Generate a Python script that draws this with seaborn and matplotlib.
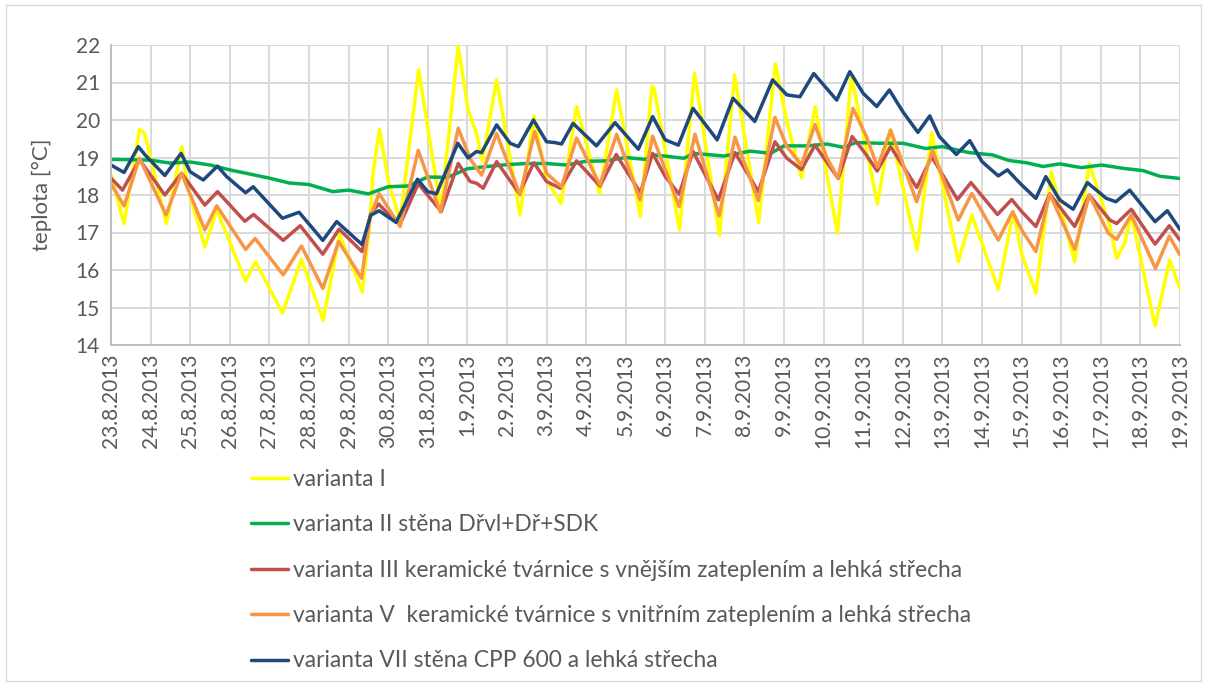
import numpy as np
import pandas as pd
import matplotlib
matplotlib.use("Agg")
import matplotlib.pyplot as plt
from matplotlib.patches import Rectangle
import seaborn as sns

# dny od 23.8.2013 0:00 -> teplota [°C] (extrémy + přechody)
dates = ["23.8.2013", "24.8.2013", "25.8.2013", "26.8.2013", "27.8.2013", "28.8.2013",
         "29.8.2013", "30.8.2013", "31.8.2013", "1.9.2013", "2.9.2013", "3.9.2013",
         "4.9.2013", "5.9.2013", "6.9.2013", "7.9.2013", "8.9.2013", "9.9.2013",
         "10.9.2013", "11.9.2013", "12.9.2013", "13.9.2013", "14.9.2013", "15.9.2013",
         "16.9.2013", "17.9.2013", "18.9.2013", "19.9.2013"]

names = ["varianta I",
         "varianta II stěna Dřvl+Dř+SDK",
         "varianta III keramické tvárnice s vnějším zateplením a lehká střecha",
         "varianta V  keramické tvárnice s vnitřním zateplením a lehká střecha",
         "varianta VII stěna CPP 600 a lehká střecha"]
colors = ["#FFFF00", "#00B050", "#C0504D", "#F79646", "#1F497D"]

t_var1 = [0.0, 0.33, 0.72, 0.85, 1.40, 1.79, 1.94, 2.37, 2.67, 3.40, 3.65, 4.33, 4.81,
          5.36, 5.77, 6.35, 6.54, 6.62, 6.78, 7.0, 7.3, 7.77, 8.33, 8.77, 9.02, 9.23,
          9.38, 9.74, 10.33, 10.68, 11.0, 11.37, 11.76, 12.34, 12.77, 13.37, 13.66,
          13.72, 14.36, 14.74, 15.37, 15.75, 16.36, 16.78, 17.08, 17.44, 17.79, 18.07,
          18.35, 18.7, 19.36, 19.68, 20.36, 20.73, 21.4, 21.74, 22.41, 22.79, 23.0,
          23.36, 23.75, 24.34, 24.71, 25.23, 25.4, 25.6, 25.77, 26.37, 26.74, 27.0]
v_var1 = [18.55, 17.24, 19.75, 19.65, 17.24, 19.29, 18.2, 16.62, 17.6, 15.7, 16.22, 14.85,
          16.28, 14.66, 16.95, 15.42, 17.3, 18.6, 19.76, 18.4, 17.3, 21.34, 17.6, 21.96,
          20.27, 19.64, 18.9, 21.08, 17.47, 20.1, 18.4, 17.78, 20.36, 18.04, 20.8, 17.43,
          20.9, 20.84, 17.07, 21.24, 16.92, 21.2, 17.26, 21.5, 19.9, 18.46, 20.36, 18.6,
          16.98, 21.18, 17.76, 19.73, 16.53, 19.66, 16.22, 17.47, 15.49, 17.56, 16.44,
          15.38, 18.62, 16.22, 18.84, 17.16, 16.31, 16.71, 17.47, 14.51, 16.27, 15.5]

t_var2 = [0, 1, 1.5, 2, 2.5, 3, 3.5, 4, 4.5, 5, 5.6, 6, 6.5, 7, 7.5, 8, 8.5, 9, 9.5, 10,
          10.5, 11, 11.5, 12, 12.5, 13, 13.5, 13.71, 14.47, 14.72, 15.48, 16.15, 16.66,
          17.0, 17.58, 18.09, 18.5, 18.81, 19.4, 20.0, 20.58, 21.0, 21.67, 22.26, 22.68,
          23.12, 23.54, 23.96, 24.51, 25.02, 25.57, 26.07, 26.49, 27.0]
v_var2 = [18.95, 18.93, 18.85, 18.88, 18.8, 18.67, 18.56, 18.45, 18.32, 18.28, 18.09,
          18.13, 18.03, 18.22, 18.24, 18.48, 18.47, 18.7, 18.76, 18.81, 18.84, 18.84, 18.8,
          18.9, 18.91, 19.0, 18.95, 19.07, 18.98, 19.11, 19.04, 19.17, 19.11, 19.31, 19.31,
          19.36, 19.27, 19.4, 19.38, 19.38, 19.24, 19.29, 19.13, 19.07, 18.92, 18.86, 18.76,
          18.83, 18.73, 18.8, 18.71, 18.65, 18.5, 18.44]

t_var3 = [0, 0.29, 0.72, 1.36, 1.78, 2.37, 2.69, 3.38, 3.6, 4.35, 4.78, 5.35, 5.76, 6.34,
          6.56, 6.76, 7.0, 7.3, 7.76, 8.34, 8.77, 9.07, 9.24, 9.4, 9.74, 10.31, 10.68, 11.0,
          11.35, 11.76, 12.35, 12.76, 13.37, 13.68, 14.0, 14.35, 14.7, 15.34, 15.76, 16.35,
          16.77, 17.07, 17.44, 17.78, 18.07, 18.37, 18.72, 19.05, 19.35, 19.69, 20.35,
          20.73, 21.38, 21.72, 22.39, 22.75, 23.0, 23.36, 23.71, 24.34, 24.71, 25.23, 25.4,
          25.77, 26.37, 26.73, 27.0]
v_var3 = [18.45, 18.13, 18.94, 18.0, 18.58, 17.73, 18.09, 17.3, 17.48, 16.79, 17.18, 16.42,
          17.09, 16.49, 17.5, 17.76, 17.5, 17.22, 18.3, 17.56, 18.84, 18.36, 18.31, 18.18,
          18.89, 18.04, 18.86, 18.36, 18.18, 18.91, 18.24, 19.08, 18.06, 19.11, 18.49, 18.02,
          19.16, 17.87, 19.13, 18.09, 19.42, 18.98, 18.68, 19.33, 18.89, 18.44, 19.56, 19.11,
          18.64, 19.29, 18.2, 19.02, 17.88, 18.33, 17.48, 17.88, 17.56, 17.16, 18.03, 17.16,
          18.0, 17.33, 17.24, 17.62, 16.69, 17.18, 16.8]

t_var5 = [0, 0.33, 0.72, 1.39, 1.78, 2.37, 2.67, 3.4, 3.64, 4.35, 4.81, 5.35, 5.75, 6.33,
          6.54, 6.77, 7.3, 7.76, 8.32, 8.77, 9.08, 9.36, 9.74, 10.33, 10.7, 11.0, 11.38,
          11.76, 12.35, 12.77, 13.36, 13.68, 14.35, 14.75, 15.36, 15.76, 16.35, 16.77,
          17.07, 17.44, 17.78, 18.07, 18.36, 18.74, 19.08, 19.36, 19.69, 20.35, 20.75,
          21.4, 21.74, 22.41, 22.77, 23.0, 23.36, 23.71, 24.34, 24.71, 25.19, 25.4, 25.77,
          26.38, 26.73, 27.0]
v_var5 = [18.3, 17.71, 18.98, 17.47, 18.58, 17.07, 17.71, 16.55, 16.84, 15.87, 16.64, 15.51,
          16.76, 15.78, 17.38, 18.04, 17.16, 19.19, 17.54, 19.78, 18.95, 18.53, 19.64, 18.0,
          19.69, 18.58, 18.22, 19.52, 18.27, 19.62, 17.87, 19.57, 17.69, 19.62, 17.44, 19.54,
          17.85, 20.07, 19.29, 18.8, 19.88, 19.02, 18.45, 20.31, 19.56, 18.74, 19.73, 17.82,
          19.2, 17.33, 18.04, 16.8, 17.55, 17.07, 16.49, 18.03, 16.55, 18.0, 16.98, 16.82,
          17.47, 16.04, 16.9, 16.4]

t_var7 = [0, 0.33, 0.69, 0.86, 1.36, 1.77, 2.0, 2.33, 2.69, 2.92, 3.4, 3.59, 4.33, 4.75,
          5.35, 5.7, 6.34, 6.56, 6.77, 7.2, 7.74, 8.0, 8.22, 8.76, 9.02, 9.23, 9.36, 9.74,
          10.08, 10.29, 10.67, 11.0, 11.2, 11.38, 11.67, 12.26, 12.73, 13.32, 13.68, 14.0,
          14.33, 14.7, 15.31, 15.71, 16.26, 16.71, 17.07, 17.4, 17.75, 18.33, 18.66, 19.0,
          19.34, 19.66, 20.0, 20.38, 20.68, 20.92, 21.35, 21.69, 22.0, 22.41, 22.64, 22.98,
          23.36, 23.61, 23.96, 24.3, 24.66, 25.14, 25.38, 25.73, 26.37, 26.68, 27.0]
v_var7 = [18.8, 18.6, 19.29, 19.07, 18.52, 19.11, 18.62, 18.4, 18.77, 18.49, 18.06, 18.22,
          17.38, 17.54, 16.79, 17.29, 16.68, 17.46, 17.58, 17.27, 18.42, 18.09, 18.03, 19.38,
          18.99, 19.16, 19.13, 19.87, 19.38, 19.29, 20.0, 19.42, 19.4, 19.36, 19.91, 19.31,
          19.93, 19.22, 20.09, 19.47, 19.33, 20.31, 19.47, 20.58, 19.96, 21.07, 20.67, 20.62,
          21.24, 20.53, 21.29, 20.71, 20.36, 20.8, 20.22, 19.67, 20.11, 19.56, 19.08, 19.45,
          18.89, 18.51, 18.67, 18.29, 17.91, 18.49, 17.87, 17.62, 18.33, 17.91, 17.82, 18.13,
          17.29, 17.58, 17.08]

series_t = [t_var1, t_var2, t_var3, t_var5, t_var7]
series_v = [v_var1, v_var2, v_var3, v_var5, v_var7]
df = pd.concat([pd.DataFrame({"den": t, "teplota": v, "varianta": n})
                for t, v, n in zip(series_t, series_v, names)], ignore_index=True)

sns.set_theme(style="whitegrid")
plt.rcParams["font.family"] = ["Lato", "DejaVu Sans"]
grey = "#595959"

fig = plt.figure(figsize=(12.07, 6.86), dpi=100)
ax = fig.add_axes([111 / 1207, 1 - 345 / 686, (1180 - 111) / 1207, 300 / 686])

sns.lineplot(data=df, x="den", y="teplota", hue="varianta", hue_order=names,
             palette=dict(zip(names, colors)), estimator=None, sort=False,
             linewidth=2.5, solid_joinstyle="round", solid_capstyle="round",
             ax=ax, legend=False)

ax.set_xlim(0, 27)
ax.set_ylim(14, 22)
ax.set_xticks(range(len(dates)))
ax.set_xticklabels(dates, rotation=90, fontsize=15, color=grey)
ax.set_yticks(range(14, 23))
ax.tick_params(axis="y", labelsize=15, labelcolor=grey, length=0, pad=8)
ax.tick_params(axis="x", length=0, pad=6)
ax.set_xlabel("")
ax.set_ylabel("teplota [°C]", fontsize=16, color=grey, labelpad=17)
ax.grid(True, color="#d9d9d9", linewidth=1.4)
for s in ["top", "right"]:
    ax.spines[s].set_visible(False)
for s in ["left", "bottom"]:
    ax.spines[s].set_color("#bfbfbf")
    ax.spines[s].set_linewidth(1.4)

handles = [plt.Line2D([], [], color=c, linewidth=2.5) for c in colors]
leg = fig.legend(handles, names, loc="upper left", bbox_to_anchor=(251 / 1207, 1 - 469 / 686),
                 frameon=False, fontsize=16.4, labelspacing=1.07, handlelength=1.63,
                 handletextpad=0.2, borderpad=0, borderaxespad=0)
for txt in leg.get_texts():
    txt.set_color(grey)

fig.add_artist(Rectangle((6 / 1207, 5 / 686), 1195 / 1207, 676 / 686,
                         transform=fig.transFigure, fill=False, edgecolor="#d9d9d9", linewidth=1))

fig.savefig("out.png", dpi=100)
